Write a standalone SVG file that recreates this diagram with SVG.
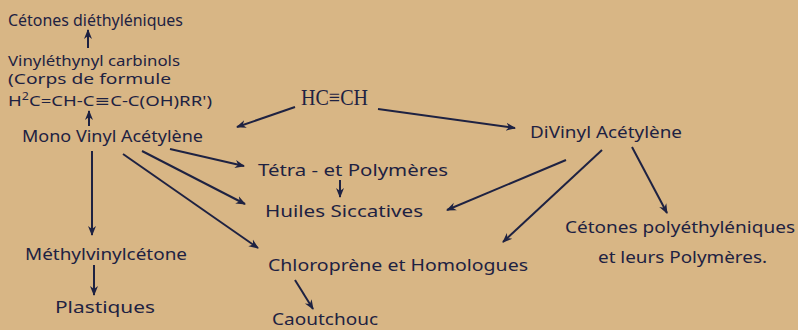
<svg xmlns="http://www.w3.org/2000/svg" width="798" height="330" viewBox="0 0 798 330">
<style>
.t{font-family:"Noto Sans","DejaVu Sans",sans-serif;font-size:17px;fill:#1e2242}
.s{font-size:15px}
.big{font-family:"Liberation Serif","DejaVu Serif",serif;font-size:23px;fill:#1e2242}
.c line{stroke:#1e2242;stroke-width:2;marker-end:url(#ah)}
</style>
<defs>
<marker id="ah" viewBox="0 0 10 10" refX="9" refY="5" markerWidth="5" markerHeight="5" orient="auto" markerUnits="strokeWidth">
<path d="M0,1 L10,5 L0,9 L3,5 Z" fill="#1e2242"/>
</marker>
</defs>
<rect width="798" height="330" fill="#d8b685"/>
<g id="cetones-di"><text class="t" x="8" y="26" textLength="175" lengthAdjust="spacingAndGlyphs">Cétones diéthyléniques</text></g>
<g id="vinylethynyl">
<text class="t s" x="8" y="66" textLength="172" lengthAdjust="spacingAndGlyphs">Vinyléthynyl carbinols</text>
<text class="t s" x="8" y="84" textLength="163" lengthAdjust="spacingAndGlyphs">(Corps de formule</text>
<text class="t s" x="8" y="106" textLength="204" lengthAdjust="spacingAndGlyphs">H<tspan font-size="10" dy="-6">2</tspan><tspan dy="6">C=CH-C≡C-C(OH)RR')</tspan></text>
</g>
<g id="monovinyl"><text class="t" x="22" y="142" textLength="181" lengthAdjust="spacingAndGlyphs">Mono Vinyl Acétylène</text></g>
<g id="acetylene"><text class="big" x="301" y="105" textLength="67" lengthAdjust="spacingAndGlyphs">HC≡CH</text></g>
<g id="divinyl"><text class="t" x="530" y="138" textLength="152" lengthAdjust="spacingAndGlyphs">DiVinyl Acétylène</text></g>
<g id="tetra"><text class="t" x="258" y="176" textLength="190" lengthAdjust="spacingAndGlyphs">Tétra - et  Polymères</text></g>
<g id="huiles"><text class="t" x="265" y="217" textLength="158" lengthAdjust="spacingAndGlyphs">Huiles Siccatives</text></g>
<g id="chloroprene"><text class="t" x="268" y="271" textLength="260" lengthAdjust="spacingAndGlyphs">Chloroprène et Homologues</text></g>
<g id="caoutchouc"><text class="t" x="272" y="325" textLength="106" lengthAdjust="spacingAndGlyphs">Caoutchouc</text></g>
<g id="methylvinylcetone"><text class="t" x="25" y="260" textLength="162" lengthAdjust="spacingAndGlyphs">Méthylvinylcétone</text></g>
<g id="plastiques"><text class="t" x="55" y="313" textLength="100" lengthAdjust="spacingAndGlyphs">Plastiques</text></g>
<g id="cetones-poly">
<text class="t" x="565" y="233" textLength="230" lengthAdjust="spacingAndGlyphs">Cétones polyéthyléniques</text>
<text class="t" x="598" y="263" textLength="169" lengthAdjust="spacingAndGlyphs">et leurs Polymères.</text>
</g>
<g id="connectors" class="c">
<line x1="88" y1="48" x2="88" y2="30"/>
<line x1="89" y1="126" x2="89" y2="111"/>
<line x1="295" y1="107" x2="237" y2="127"/>
<line x1="378" y1="109" x2="515" y2="128"/>
<line x1="92" y1="151" x2="92" y2="235"/>
<line x1="94" y1="265" x2="94" y2="295"/>
<line x1="170" y1="149" x2="244" y2="166"/>
<line x1="142" y1="151" x2="245" y2="204"/>
<line x1="123" y1="154" x2="258" y2="248"/>
<line x1="340" y1="180" x2="340" y2="197"/>
<line x1="295" y1="280" x2="313" y2="309"/>
<line x1="566" y1="160" x2="447" y2="210"/>
<line x1="602" y1="150" x2="503" y2="242"/>
<line x1="632" y1="147" x2="667" y2="213"/>
</g>
</svg>
